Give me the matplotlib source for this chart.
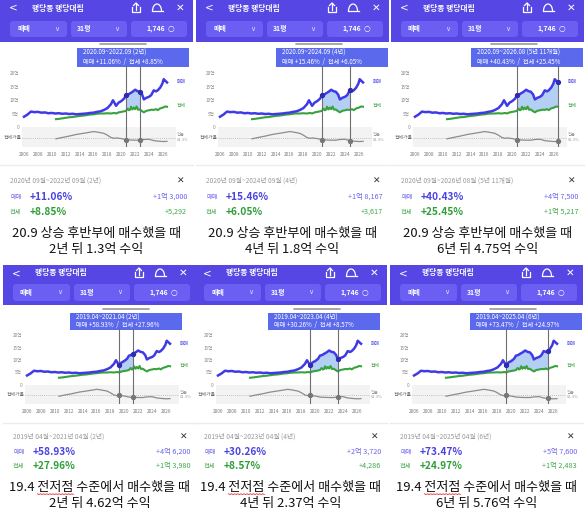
import numpy as np
import matplotlib
matplotlib.use('Agg')
import matplotlib.pyplot as plt
from matplotlib.patches import Rectangle, FancyBboxPatch, Arc

plt.rcParams['font.family'] = ['Noto Sans CJK KR', 'DejaVu Sans']

# 매매 (sale) price, 억
t_sale = [2006.0, 2006.5, 2007.0, 2007.5, 2008.0, 2008.5, 2009.0, 2009.5, 2010.0, 2010.5,
          2011.0, 2011.5, 2012.0, 2012.5, 2013.0, 2013.5, 2014.0, 2014.5, 2015.0, 2015.5,
          2016.0, 2016.5, 2017.0, 2017.5, 2018.0, 2018.5, 2018.8, 2019.0, 2019.25, 2019.6,
          2020.0, 2020.4, 2020.67, 2021.0, 2021.25, 2021.6, 2022.0, 2022.3, 2022.67, 2023.0,
          2023.25, 2023.6, 2024.0, 2024.3, 2024.67, 2025.0, 2025.25, 2025.6, 2025.9, 2026.1,
          2026.3, 2026.58]
sale = [3.8, 4.6, 5.7, 5.5, 5.6, 5.3, 5.4, 5.1, 5.2, 5.0,
        5.1, 4.9, 5.0, 4.8, 4.9, 4.7, 4.8, 4.9, 5.0, 5.2,
        5.3, 5.6, 5.8, 6.3, 7.0, 8.4, 9.9, 9.0, 7.84, 9.0,
        9.6, 10.5, 11.75, 12.0, 12.46, 13.0, 13.8, 13.3, 13.05, 12.0,
        10.21, 10.8, 11.2, 11.8, 13.57, 13.2, 13.6, 14.6, 16.0, 17.7,
        17.2, 16.5]

# 전세 (jeonse) price, 억
t_jeonse = [2010.6, 2011.0, 2011.5, 2012.0, 2012.5, 2013.0, 2013.5, 2014.0, 2014.5, 2015.0,
            2015.5, 2016.0, 2016.5, 2017.0, 2017.5, 2018.0, 2018.5, 2019.0, 2019.25, 2019.6,
            2020.0, 2020.4, 2020.67, 2020.9, 2021.1, 2021.25, 2021.4, 2021.6, 2021.8, 2022.0,
            2022.2, 2022.4, 2022.67, 2022.9, 2023.25, 2023.6, 2024.0, 2024.3, 2024.67, 2025.0,
            2025.25, 2025.6, 2026.0, 2026.3, 2026.58]
jeonse = [2.9, 3.0, 3.2, 3.4, 3.6, 3.7, 3.9, 4.1, 4.2, 4.4,
          4.6, 4.7, 4.9, 5.0, 5.0, 5.1, 5.0, 5.2, 5.0, 5.4,
          5.6, 5.8, 5.98, 6.8, 6.2, 6.4, 7.5, 6.5, 7.2, 6.6,
          7.6, 6.4, 6.51, 6.0, 5.43, 6.0, 6.2, 6.4, 6.34, 6.6,
          6.25, 6.9, 7.2, 7.6, 7.5]

# 전세가율 (%)
t_ratio = [2010.6, 2011.5, 2012.5, 2013.5, 2014.5, 2015.5, 2016.0, 2016.5, 2017.5, 2018.0,
           2018.5, 2019.0, 2019.25, 2020.0, 2020.67, 2021.25, 2022.0, 2022.67, 2023.25, 2024.0,
           2024.67, 2025.25, 2026.0, 2026.58]
ratio = [56, 62, 68, 75, 80, 85, 88, 86, 80, 72,
         62, 58, 60, 57, 52, 51, 50, 50, 53, 54,
         48, 46, 44, 45]
ratio_avg = 61.3

# selected periods per screenshot
sel_start = [2020.67, 2020.67, 2020.67, 2019.25, 2019.25, 2019.25]
sel_end = [2022.67, 2024.67, 2026.58, 2021.25, 2023.25, 2025.25]
tip_range = ['2020.09~2022.09 (2년)', '2020.09~2024.09 (4년)', '2020.09~2026.08 (5년 11개월)',
             '2019.04~2021.04 (2년)', '2019.04~2023.04 (4년)', '2019.04~2025.04 (6년)']
date_range = ['2020년 09월~2022년 09월 (2년)', '2020년 09월~2024년 09월 (4년)',
              '2020년 09월~2026년 08월 (5년 11개월)', '2019년 04월~2021년 04월 (2년)',
              '2019년 04월~2023년 04월 (4년)', '2019년 04월~2025년 04월 (6년)']
sale_pct = ['+11.06%', '+15.46%', '+40.43%', '+58.93%', '+30.26%', '+73.47%']
jeonse_pct = ['+8.85%', '+6.05%', '+25.45%', '+27.96%', '+8.57%', '+24.97%']
sale_gain = ['+1억 3,000', '+1억 8,167', '+4억 7,500', '+4억 6,200', '+2억 3,720', '+5억 7,600']
jeonse_gain = ['+5,292', '+3,617', '+1억 5,217', '+1억 3,980', '+4,286', '+1억 2,483']
caption1 = ['20.9 상승 후반부에 매수했을 때'] * 3 + ['19.4 전저점 수준에서 매수했을 때'] * 3
caption2 = ['2년 뒤 1.3억 수익', '4년 뒤 1.8억 수익', '6년 뒤 4.75억 수익',
            '2년 뒤 4.62억 수익', '4년 뒤 2.37억 수익', '6년 뒤 5.76억 수익']

HDR = '#5646e4'
BTN = '#6a5ef3'
TIP = '#5b6aec'
SALE_C = '#3f3ae6'
JEON_C = '#38a23c'
FILL_C = '#a7c7f3'

W, H = 587, 518
fig = plt.figure(figsize=(W / 100, H / 100), dpi=100)
cv = fig.add_axes([0, 0, 1, 1])
cv.set_xlim(0, W)
cv.set_ylim(H, 0)
cv.axis('off')


def frac(x, y, w, h):
    return [x / W, 1 - (y + h) / H, w / W, h / H]


ROWS = [dict(hdr=(0, 42), title=8, btn=(21, 37), handle=44, tip=(48, 67), y20=73, y0=127,
             band=20, sep=165, date=181, sale=197, jeon=212, cap=(234, 250)),
        dict(hdr=(265, 305), title=273, btn=(284, 301), handle=309, tip=(313, 330), y20=335,
             y0=385, band=19, sep=423, date=437, sale=452, jeon=466, cap=(487, 503))]
COLS = [[0, 196, 391], [3, 194, 390]]
PW = 193
PXYR = 6.95


def draw_panel(i):
    r = ROWS[i // 3]
    x0 = COLS[i // 3][i % 3]

    # header bar
    h0, h1 = r['hdr']
    cv.add_patch(Rectangle((x0, h0), PW, h1 - h0, color=HDR, lw=0))
    ty = r['title']
    cv.text(x0 + 13, ty, '<', color='white', fontsize=7.5, ha='center', va='center',
            family='DejaVu Sans')
    cv.text(x0 + 32, ty, '행당동 행당대림', color='white', fontsize=5.6, va='center',
            fontweight='bold')
    sx = x0 + 136
    cv.plot([sx - 4, sx - 4, sx + 4, sx + 4], [ty - 1, ty + 4, ty + 4, ty - 1], color='white', lw=0.9)
    cv.plot([sx, sx], [ty - 5, ty + 2], color='white', lw=0.9)
    cv.plot([sx - 2.5, sx, sx + 2.5], [ty - 2.5, ty - 5, ty - 2.5], color='white', lw=0.9)
    bx = x0 + 157
    cv.add_patch(Arc((bx, ty + 3), 9, 14, theta1=180, theta2=360, color='white', lw=0.9))
    cv.plot([bx - 5.5, bx + 5.5], [ty + 3.3, ty + 3.3], color='white', lw=0.9)
    cv.text(x0 + 180, ty, '✕', color='white', fontsize=7.5, ha='center', va='center',
            family='DejaVu Sans')

    b0, b1 = r['btn']
    by = (b0 + b1) / 2
    for bl, br in [(10, 67), (71, 127), (131, 187)]:
        cv.add_patch(FancyBboxPatch((x0 + bl, b0), br - bl, b1 - b0,
                                    boxstyle='round,pad=0,rounding_size=3', color=BTN, lw=0))
    cv.text(x0 + 17, by, '매매', color='white', fontsize=5, va='center', fontweight='bold')
    cv.text(x0 + 57, by, '∨', color='#dcd8ff', fontsize=5, va='center', ha='center',
            family='DejaVu Sans')
    cv.text(x0 + 77, by, '31평', color='white', fontsize=5, va='center', fontweight='bold')
    cv.text(x0 + 117, by, '∨', color='#dcd8ff', fontsize=5, va='center', ha='center',
            family='DejaVu Sans')
    cv.text(x0 + 165, by, '1,746', color='white', fontsize=5, va='center', ha='right',
            fontweight='bold')
    cv.text(x0 + 171, by, '○', color='white', fontsize=5.5, va='center', ha='center',
            family='DejaVu Sans')

    # drag handle
    cv.plot([x0 + 100, x0 + 146], [r['handle'], r['handle']], color='#9a9a9a', lw=1.2,
            solid_capstyle='round')

    # main chart
    X2006 = x0 + 24
    L, R = x0 + 22, x0 + 176
    xl = (2006 - (X2006 - L) / PXYR, 2006 + (R - X2006) / PXYR)
    s = (r['y0'] - r['y20']) / 20
    T, B = r['y20'] - 7, r['y0']
    ax = fig.add_axes(frac(L, T, R - L, B - T))
    ax.set_xlim(xl)
    ax.set_ylim(0, 20 + 7 / s)
    ax.patch.set_alpha(0)
    for sp in ax.spines.values():
        sp.set_visible(False)
    ax.set_xticks([])
    ax.set_yticks([0, 5, 10, 15, 20])
    ax.set_yticklabels(['0', '5억', '10억', '15억', '20억'], fontsize=3.4, color='#8a8a8a')
    ax.tick_params(length=0, pad=2)

    st, en = sel_start[i], sel_end[i]
    grid = np.array(sorted(set([st, en] + [t for t in t_sale + t_jeonse if st <= t <= en])))
    ax.fill_between(grid, np.interp(grid, t_jeonse, jeonse), np.interp(grid, t_sale, sale),
                    color=FILL_C, alpha=0.85, lw=0)
    ax.plot(t_jeonse, jeonse, color=JEON_C, lw=1.5)
    ax.plot(t_sale, sale, color=SALE_C, lw=1.8)
    for t in (st, en):
        ax.axvline(t, color='#6e6e6e', lw=0.8)
        ax.plot([t], [np.interp(t, t_sale, sale)], 'o', color='#2f2ab0', ms=2.8)
    ax.text(xl[1] + 0.1, sale[-1] + 0.3, '매매', fontsize=3.5, color=SALE_C, va='center',
            clip_on=False)
    ax.text(xl[1] + 0.1, jeonse[-1] + 0.4, '전세', fontsize=3.5, color=JEON_C, va='center',
            clip_on=False)

    # 전세가율 band
    rax = fig.add_axes(frac(L, B, R - L, r['band']))
    rax.set_facecolor('#f3f3f3')
    rax.set_xlim(xl)
    rax.set_ylim(20, 108)
    for sp in rax.spines.values():
        sp.set_visible(False)
    rax.set_yticks([])
    rax.set_xticks(range(2006, 2027, 2))
    rax.set_xticklabels([str(y) for y in range(2006, 2027, 2)], fontsize=3.4, color='#7a7a7a')
    rax.tick_params(length=0, pad=3.5)
    rax.axhline(ratio_avg, color='#b0b0b0', lw=0.6, ls=(0, (1, 1.5)))
    rax.plot(t_ratio, ratio, color='#8c8c8c', lw=0.9)
    for t in (st, en):
        rax.axvline(t, color='#6e6e6e', lw=0.8)
        rax.plot([t], [np.interp(t, t_ratio, ratio)], 'o', color='#777777', ms=2.8)
    rax.text(xl[1] + 0.1, ratio_avg, '평균\n61.3%', fontsize=3, color='#9a9a9a',
             va='center', clip_on=False, linespacing=1.1)
    cv.text(x0 + 4, B + r['band'] / 2, '전세가율', fontsize=3.5, color='#666666', va='center')

    # tooltip
    mid = (st + en) / 2
    disp = ax.transData.transform((mid, 0))
    cx = min(cv.transData.inverted().transform(disp)[0], x0 + 136)
    t0, t1 = r['tip']
    cv.add_patch(Rectangle((cx - 56, t0), 112, t1 - t0, color=TIP, lw=0))
    cv.text(cx - 50, t0 + 5, tip_range[i], color='white', fontsize=4.5, va='center')
    cv.text(cx - 50, t0 + (t1 - t0) * 0.72,
            '매매 ' + sale_pct[i] + '  /  전세 ' + jeonse_pct[i],
            color='white', fontsize=4.5, va='center')

    # separator
    cv.plot([x0, x0 + PW], [r['sep'], r['sep']], color='#ececec', lw=1.0)

    # details
    cv.text(x0 + 10, r['date'], date_range[i], fontsize=4.8, color='#9b9b9b', va='center')
    cv.text(x0 + 181, r['date'], '✕', fontsize=6.5, color='#333333', va='center', ha='center',
            family='DejaVu Sans')
    cv.text(x0 + 10, r['sale'], '매매', fontsize=4.5, color='#6c63ee', va='center')
    cv.text(x0 + 30, r['sale'], sale_pct[i], fontsize=7.3, color='#4a43e0', va='center',
            fontweight='bold')
    cv.text(x0 + 187, r['sale'], sale_gain[i], fontsize=5.2, color='#6c63ee', va='center',
            ha='right')
    cv.text(x0 + 10, r['jeon'], '전세', fontsize=4.5, color='#3ea848', va='center')
    cv.text(x0 + 30, r['jeon'], jeonse_pct[i], fontsize=7.3, color='#2f9e3a', va='center',
            fontweight='bold')
    cv.text(x0 + 187, r['jeon'], jeonse_gain[i], fontsize=5.2, color='#3ea848', va='center',
            ha='right')

    # caption
    cx2 = x0 + PW / 2
    c1 = cv.text(cx2, r['cap'][0], caption1[i], fontsize=9.4, color='#111111', ha='center',
                 va='center')
    cv.text(cx2, r['cap'][1], caption2[i], fontsize=9.4, color='#111111', ha='center',
            va='center')
    if '전저점' in caption1[i]:
        rend = fig.canvas.get_renderer()
        bb = c1.get_window_extent(rend)
        pre = caption1[i].split('전저점')[0]
        tmp = cv.text(0, 0, pre, fontsize=9.4)
        w1 = tmp.get_window_extent(rend).width
        tmp.set_text(pre + '전저점')
        w2 = tmp.get_window_extent(rend).width
        tmp.remove()
        inv = cv.transData.inverted()
        ux0 = inv.transform((bb.x0 + w1, 0))[0]
        ux1 = inv.transform((bb.x0 + w2, 0))[0]
        xs = np.linspace(ux0, ux1, 24)
        ys = r['cap'][0] + 6.8 + 0.7 * (np.arange(24) % 2)
        cv.plot(xs, ys, color='#e03030', lw=0.6)


for k in range(6):
    draw_panel(k)

fig.savefig('out.png', dpi=100)
